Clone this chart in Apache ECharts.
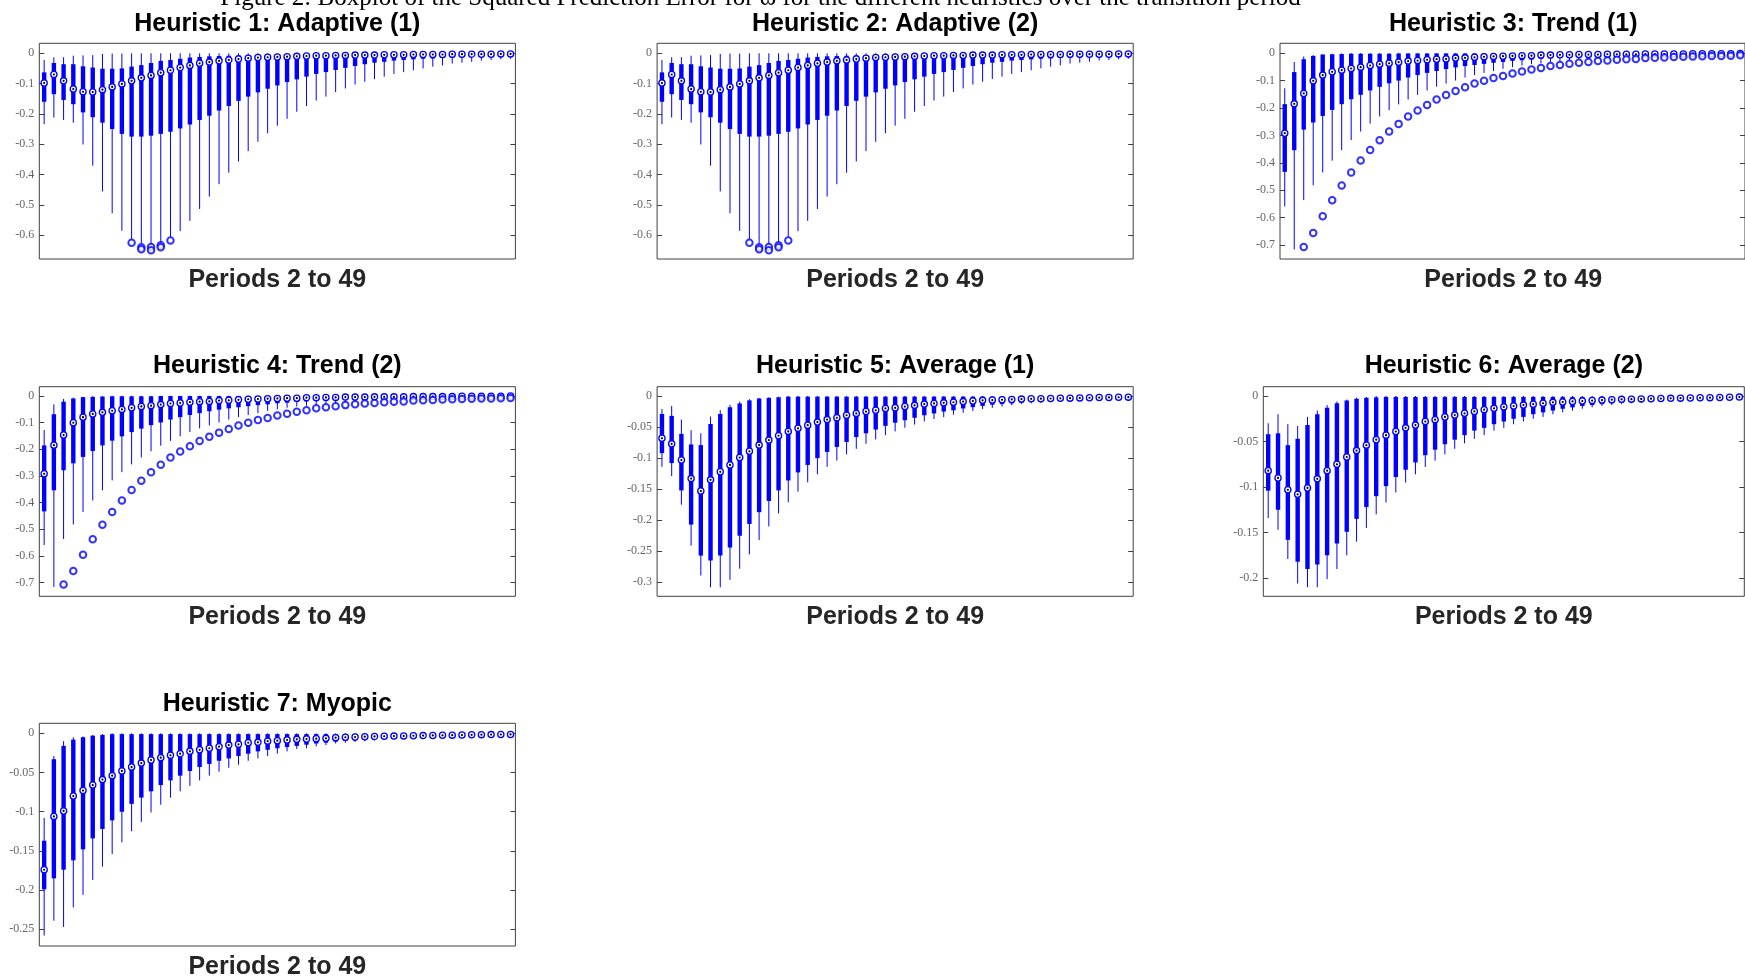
<!DOCTYPE html>
<html>
<head>
<meta charset="utf-8">
<title>Boxplot of the Squared Prediction Error</title>
<script src="https://cdn.jsdelivr.net/npm/echarts@6/dist/echarts.min.js"></script>
<style>
  html, body { margin: 0; padding: 0; background: #fff; }
  #chart { width: 1745px; height: 978px; }
</style>
</head>
<body>
<div id="chart"></div>
<script>
// --- categories: 49 boxes per panel (as counted in the figure) ---
const boxIds = Array.from({ length: 49 }, (_, i) => String(i + 1));

// --- y tick values for each panel ---
const ticksAdaptive = [0, -0.1, -0.2, -0.3, -0.4, -0.5, -0.6];
const ticksTrend = [0, -0.1, -0.2, -0.3, -0.4, -0.5, -0.6, -0.7];
const ticksAverage1 = [0, -0.05, -0.1, -0.15, -0.2, -0.25, -0.3];
const ticksAverage2 = [0, -0.05, -0.1, -0.15, -0.2];
const ticksMyopic = [0, -0.05, -0.1, -0.15, -0.2, -0.25];

// --- Heuristic 1: Adaptive (1)  (panel 2 reads the same) ---
const h1Upper = [
  -0.022, -0.013, -0.013, -0.008, -0.007, -0.006, -0.002, -0.001, -0.001, 0,
  0, 0, 0, 0, 0, 0, 0, 0, 0, 0,
  0, 0, 0, 0, 0, 0, 0, 0, 0, 0,
  0, 0, 0, 0, 0, 0, 0, 0, 0, 0,
  0, 0, 0, 0, 0, 0, 0, 0, 0];
const h1Q3 = [
  -0.063, -0.032, -0.036, -0.036, -0.043, -0.047, -0.051, -0.051, -0.050, -0.044,
  -0.039, -0.032, -0.025, -0.022, -0.018, -0.014, -0.012, -0.010, -0.009, -0.008,
  -0.007, -0.006, -0.005, -0.005, -0.004, -0.004, -0.004, -0.003, -0.003, -0.003,
  -0.003, -0.003, -0.002, -0.002, -0.002, -0.002, -0.002, -0.002, -0.002, -0.001,
  -0.001, -0.001, -0.001, -0.001, -0.001, -0.001, -0.001, -0.001, -0.001];
const h1Median = [
  -0.098, -0.070, -0.091, -0.118, -0.127, -0.128, -0.120, -0.111, -0.101, -0.091,
  -0.081, -0.073, -0.064, -0.056, -0.047, -0.040, -0.033, -0.029, -0.025, -0.022,
  -0.019, -0.016, -0.014, -0.013, -0.012, -0.011, -0.010, -0.009, -0.008, -0.008,
  -0.007, -0.007, -0.006, -0.006, -0.006, -0.005, -0.005, -0.005, -0.004, -0.004,
  -0.004, -0.004, -0.003, -0.003, -0.003, -0.003, -0.003, -0.002, -0.002];
const h1Q1 = [
  -0.160, -0.135, -0.154, -0.168, -0.195, -0.211, -0.229, -0.250, -0.266, -0.275,
  -0.275, -0.272, -0.266, -0.259, -0.248, -0.235, -0.220, -0.206, -0.189, -0.174,
  -0.157, -0.143, -0.129, -0.117, -0.106, -0.095, -0.086, -0.077, -0.068, -0.062,
  -0.055, -0.048, -0.042, -0.036, -0.031, -0.028, -0.024, -0.022, -0.020, -0.018,
  -0.017, -0.015, -0.014, -0.013, -0.012, -0.011, -0.010, -0.009, -0.009];
const h1Lower = [
  -0.234, -0.212, -0.220, -0.229, -0.301, -0.371, -0.456, -0.528, -0.586, -0.614,
  -0.628, -0.630, -0.625, -0.606, -0.587, -0.553, -0.514, -0.473, -0.432, -0.394,
  -0.357, -0.323, -0.292, -0.264, -0.239, -0.216, -0.193, -0.174, -0.156, -0.143,
  -0.128, -0.116, -0.103, -0.094, -0.085, -0.077, -0.068, -0.062, -0.056, -0.050,
  -0.044, -0.040, -0.034, -0.031, -0.028, -0.024, -0.022, -0.020, -0.018];
// [box number, value]
const h1Outliers = [
  [10, -0.625], [11, -0.640], [11, -0.647], [12, -0.639], [12, -0.650],
  [13, -0.634], [13, -0.640], [14, -0.618]];

// --- Heuristic 3: Trend (1)  (panel 4 reads the same) ---
const h3Upper = [
  -0.128, -0.032, -0.012, -0.007, -0.004, -0.002, -0.001, 0, 0, 0,
  0, 0, 0, 0, 0, 0, 0, 0, 0, 0,
  0, 0, 0, 0, 0, 0, 0, 0, 0, 0,
  0, 0, 0, 0, 0, 0, 0, 0, 0, 0,
  0, 0, 0, 0, 0, 0, 0, 0, 0];
const h3Q3 = [
  -0.186, -0.069, -0.022, -0.010, -0.005, -0.004, -0.003, -0.002, -0.002, -0.002,
  -0.002, -0.002, -0.001, -0.001, -0.001, -0.001, -0.001, -0.001, -0.001, -0.001,
  -0.001, -0.001, -0.001, -0.001, -0.001, -0.001, -0.001, -0.001, -0.001, -0.001,
  -0.001, -0.001, -0.001, -0.001, -0.001, -0.001, -0.001, -0.001, -0.001, -0.0005,
  -0.0005, -0.0005, -0.0005, -0.0005, -0.0005, -0.0005, -0.0005, -0.0005, -0.0005];
const h3Median = [
  -0.292, -0.185, -0.147, -0.101, -0.080, -0.068, -0.062, -0.056, -0.051, -0.045,
  -0.040, -0.037, -0.033, -0.029, -0.027, -0.024, -0.022, -0.021, -0.018, -0.017,
  -0.015, -0.013, -0.012, -0.011, -0.010, -0.009, -0.009, -0.007, -0.007, -0.006,
  -0.006, -0.005, -0.005, -0.005, -0.004, -0.004, -0.004, -0.004, -0.003, -0.003,
  -0.003, -0.003, -0.003, -0.002, -0.002, -0.002, -0.002, -0.002, -0.001];
const h3Q1 = [
  -0.433, -0.354, -0.279, -0.253, -0.229, -0.207, -0.186, -0.168, -0.152, -0.136,
  -0.123, -0.110, -0.100, -0.089, -0.080, -0.072, -0.065, -0.058, -0.052, -0.047,
  -0.043, -0.039, -0.035, -0.032, -0.028, -0.026, -0.023, -0.021, -0.019, -0.017,
  -0.016, -0.015, -0.013, -0.012, -0.011, -0.010, -0.010, -0.009, -0.008, -0.008,
  -0.007, -0.007, -0.006, -0.006, -0.005, -0.005, -0.005, -0.004, -0.004];
const h3Lower = [
  -0.559, -0.716, -0.536, -0.482, -0.435, -0.392, -0.354, -0.317, -0.286, -0.257,
  -0.231, -0.208, -0.187, -0.169, -0.152, -0.136, -0.122, -0.111, -0.100, -0.089,
  -0.080, -0.072, -0.065, -0.057, -0.051, -0.045, -0.040, -0.037, -0.033, -0.029,
  -0.027, -0.024, -0.022, -0.019, -0.018, -0.017, -0.016, -0.015, -0.013, -0.012,
  -0.011, -0.010, -0.010, -0.009, -0.008, -0.008, -0.007, -0.007, -0.006];
const h3Outliers = [
  [3, -0.707], [4, -0.656], [5, -0.595], [6, -0.537], [7, -0.483], [8, -0.435],
  [9, -0.392], [10, -0.353], [11, -0.318], [12, -0.286], [13, -0.258], [14, -0.231],
  [15, -0.209], [16, -0.189], [17, -0.169], [18, -0.153], [19, -0.138], [20, -0.124],
  [21, -0.111], [22, -0.101], [23, -0.091], [24, -0.083], [25, -0.074], [26, -0.067],
  [27, -0.060], [28, -0.054], [29, -0.047], [30, -0.043], [31, -0.039], [32, -0.035],
  [33, -0.032], [34, -0.029], [35, -0.027], [36, -0.024], [37, -0.022], [38, -0.021],
  [39, -0.018], [40, -0.017], [41, -0.016], [42, -0.014], [43, -0.013], [44, -0.012],
  [45, -0.011], [46, -0.010], [47, -0.010], [48, -0.009], [49, -0.008]];

// --- Heuristic 5: Average (1) ---
const h5Upper = [
  -0.021, -0.016, -0.038, -0.055, -0.060, -0.033, -0.023, -0.014, -0.009, -0.005,
  -0.003, -0.002, -0.001, 0, 0, 0, 0, 0, 0, 0,
  0, 0, 0, 0, 0, 0, 0, 0, 0, 0,
  0, 0, 0, 0, 0, 0, 0, 0, 0, 0,
  0, 0, 0, 0, 0, 0, 0, 0, 0];
const h5Q3 = [
  -0.029, -0.032, -0.061, -0.078, -0.079, -0.045, -0.029, -0.018, -0.012, -0.007,
  -0.004, -0.003, -0.002, -0.001, -0.001, -0.001, -0.001, -0.001, -0.001, -0.001,
  -0.001, -0.001, -0.001, -0.001, -0.001, -0.001, -0.001, -0.001, -0.001, -0.001,
  -0.001, -0.001, -0.001, -0.001, -0.001, -0.001, -0.001, -0.001, -0.001, -0.0008,
  -0.0008, -0.0008, -0.0008, -0.0008, -0.0008, -0.0008, -0.0008, -0.0008, -0.0008];
const h5Median = [
  -0.068, -0.077, -0.103, -0.133, -0.153, -0.135, -0.122, -0.111, -0.099, -0.089,
  -0.079, -0.071, -0.064, -0.057, -0.052, -0.047, -0.042, -0.038, -0.035, -0.031,
  -0.028, -0.025, -0.023, -0.020, -0.019, -0.017, -0.015, -0.013, -0.012, -0.011,
  -0.010, -0.009, -0.008, -0.007, -0.0065, -0.006, -0.0055, -0.005, -0.0045, -0.0043,
  -0.004, -0.0037, -0.0034, -0.003, -0.0028, -0.0025, -0.0023, -0.002, -0.0018];
const h5Q1 = [
  -0.092, -0.108, -0.152, -0.207, -0.257, -0.265, -0.257, -0.244, -0.225, -0.206,
  -0.187, -0.169, -0.152, -0.136, -0.123, -0.111, -0.100, -0.090, -0.082, -0.074,
  -0.066, -0.060, -0.054, -0.048, -0.043, -0.039, -0.035, -0.031, -0.028, -0.025,
  -0.023, -0.020, -0.018, -0.016, -0.014, -0.013, -0.012, -0.011, -0.0095, -0.0085,
  -0.0075, -0.007, -0.0065, -0.006, -0.0055, -0.005, -0.0045, -0.004, -0.0035];
const h5Lower = [
  -0.114, -0.129, -0.175, -0.241, -0.289, -0.308, -0.308, -0.296, -0.278, -0.255,
  -0.232, -0.210, -0.189, -0.171, -0.154, -0.139, -0.126, -0.114, -0.104, -0.094,
  -0.085, -0.077, -0.070, -0.063, -0.057, -0.051, -0.046, -0.041, -0.037, -0.034,
  -0.030, -0.027, -0.024, -0.021, -0.019, -0.017, -0.015, -0.013, -0.012, -0.011,
  -0.010, -0.009, -0.008, -0.0075, -0.007, -0.0065, -0.006, -0.0055, -0.005];

// --- Heuristic 6: Average (2) ---
const h6Upper = [
  -0.030, -0.020, -0.031, -0.033, -0.023, -0.016, -0.010, -0.006, -0.004, -0.002,
  -0.001, 0, 0, 0, 0, 0, 0, 0, 0, 0,
  0, 0, 0, 0, 0, 0, 0, 0, 0, 0,
  0, 0, 0, 0, 0, 0, 0, 0, 0, 0,
  0, 0, 0, 0, 0, 0, 0, 0, 0];
const h6Q3 = [
  -0.042, -0.041, -0.054, -0.047, -0.032, -0.020, -0.013, -0.008, -0.005, -0.003,
  -0.002, -0.0015, -0.001, -0.001, -0.001, -0.001, -0.001, -0.001, -0.001, -0.001,
  -0.001, -0.001, -0.001, -0.001, -0.001, -0.001, -0.001, -0.001, -0.001, -0.001,
  -0.001, -0.001, -0.001, -0.001, -0.001, -0.001, -0.001, -0.001, -0.001, -0.0006,
  -0.0006, -0.0006, -0.0006, -0.0006, -0.0006, -0.0006, -0.0006, -0.0006, -0.0006];
const h6Median = [
  -0.082, -0.090, -0.103, -0.108, -0.101, -0.091, -0.082, -0.075, -0.067, -0.060,
  -0.054, -0.048, -0.043, -0.039, -0.035, -0.032, -0.028, -0.026, -0.023, -0.021,
  -0.019, -0.017, -0.015, -0.0136, -0.012, -0.011, -0.010, -0.009, -0.008, -0.007,
  -0.0066, -0.006, -0.0055, -0.005, -0.0045, -0.0041, -0.0037, -0.0035, -0.0032, -0.003,
  -0.0028, -0.0026, -0.0024, -0.0022, -0.002, -0.0018, -0.0016, -0.0014, -0.0012];
const h6Q1 = [
  -0.104, -0.125, -0.158, -0.182, -0.190, -0.185, -0.175, -0.162, -0.149, -0.135,
  -0.122, -0.110, -0.099, -0.089, -0.081, -0.073, -0.065, -0.059, -0.053, -0.048,
  -0.043, -0.038, -0.035, -0.031, -0.028, -0.025, -0.023, -0.020, -0.018, -0.016,
  -0.014, -0.0125, -0.011, -0.010, -0.009, -0.008, -0.0073, -0.0066, -0.006, -0.0055,
  -0.005, -0.0046, -0.0042, -0.0038, -0.0035, -0.0032, -0.0029, -0.0026, -0.0023];
const h6Lower = [
  -0.134, -0.147, -0.179, -0.206, -0.210, -0.210, -0.201, -0.190, -0.175, -0.160,
  -0.145, -0.130, -0.117, -0.106, -0.095, -0.086, -0.078, -0.071, -0.064, -0.058,
  -0.052, -0.047, -0.043, -0.038, -0.035, -0.031, -0.028, -0.025, -0.023, -0.020,
  -0.018, -0.016, -0.014, -0.0125, -0.011, -0.010, -0.009, -0.008, -0.0074, -0.0068,
  -0.0062, -0.0057, -0.0052, -0.0048, -0.0044, -0.004, -0.0037, -0.0034, -0.0031];

// --- Heuristic 7: Myopic ---
const h7Upper = [
  -0.108, -0.029, -0.010, -0.005, -0.004, -0.002, -0.001, 0, 0, 0,
  0, 0, 0, 0, 0, 0, 0, 0, 0, 0,
  0, 0, 0, 0, 0, 0, 0, 0, 0, 0,
  0, 0, 0, 0, 0, 0, 0, 0, 0, 0,
  0, 0, 0, 0, 0, 0, 0, 0, 0];
const h7Q3 = [
  -0.137, -0.033, -0.016, -0.008, -0.005, -0.003, -0.002, -0.001, -0.001, -0.001,
  -0.001, -0.001, -0.001, -0.001, -0.001, -0.001, -0.001, -0.001, -0.001, -0.001,
  -0.001, -0.001, -0.001, -0.001, -0.001, -0.001, -0.001, -0.001, -0.001, -0.001,
  -0.001, -0.001, -0.001, -0.001, -0.001, -0.001, -0.001, -0.001, -0.001, -0.0007,
  -0.0007, -0.0007, -0.0007, -0.0007, -0.0007, -0.0007, -0.0007, -0.0007, -0.0007];
const h7Median = [
  -0.174, -0.106, -0.099, -0.080, -0.073, -0.066, -0.059, -0.054, -0.048, -0.043,
  -0.038, -0.034, -0.031, -0.028, -0.026, -0.023, -0.021, -0.019, -0.017, -0.015,
  -0.014, -0.012, -0.0115, -0.010, -0.0094, -0.0085, -0.0077, -0.0072, -0.0068, -0.0064,
  -0.0055, -0.005, -0.0047, -0.0043, -0.004, -0.0037, -0.0035, -0.0033, -0.0031, -0.0029,
  -0.0027, -0.0025, -0.0023, -0.0021, -0.0019, -0.0017, -0.0016, -0.0015, -0.0014];
const h7Q1 = [
  -0.199, -0.185, -0.174, -0.162, -0.148, -0.134, -0.122, -0.111, -0.100, -0.090,
  -0.082, -0.074, -0.066, -0.060, -0.054, -0.048, -0.043, -0.039, -0.035, -0.032,
  -0.029, -0.026, -0.023, -0.021, -0.019, -0.0175, -0.016, -0.0145, -0.013, -0.012,
  -0.0106, -0.0098, -0.009, -0.0082, -0.0075, -0.007, -0.0065, -0.006, -0.0055, -0.005,
  -0.0046, -0.0042, -0.0039, -0.0036, -0.0033, -0.003, -0.0028, -0.0026, -0.0024];
const h7Lower = [
  -0.258, -0.239, -0.247, -0.222, -0.206, -0.187, -0.170, -0.154, -0.139, -0.125,
  -0.113, -0.101, -0.091, -0.082, -0.074, -0.067, -0.060, -0.054, -0.049, -0.044,
  -0.040, -0.035, -0.032, -0.029, -0.026, -0.023, -0.020, -0.019, -0.0166, -0.015,
  -0.013, -0.012, -0.011, -0.010, -0.009, -0.0083, -0.0077, -0.0071, -0.0066, -0.0061,
  -0.0057, -0.0053, -0.0049, -0.0046, -0.0043, -0.004, -0.0037, -0.0035, -0.0033];

const BLUE = "#0000ff";
const CAPTION =
  "Figure 2: Boxplot of the Squared Prediction Error for \u03c9 for the different heuristics over the transition period";

// layout of the 7 subplots (pixels)
const panels = [
  { title: "Heuristic 1: Adaptive (1)", lower: h1Lower, q1: h1Q1, median: h1Median, q3: h1Q3, upper: h1Upper, outliers: h1Outliers,
    ticks: ticksAdaptive, min: -0.679, max: 0.033, left: 39.3, top: 43.3, width: 476.1, height: 215.7, titleY: 23.7, xLabelY: 280.3 },
  { title: "Heuristic 2: Adaptive (2)", lower: h1Lower, q1: h1Q1, median: h1Median, q3: h1Q3, upper: h1Upper, outliers: h1Outliers,
    ticks: ticksAdaptive, min: -0.679, max: 0.033, left: 657.1, top: 43.3, width: 476.1, height: 215.7, titleY: 23.7, xLabelY: 280.3 },
  { title: "Heuristic 3: Trend (1)", lower: h3Lower, q1: h3Q1, median: h3Median, q3: h3Q3, upper: h3Upper, outliers: h3Outliers,
    ticks: ticksTrend, min: -0.751, max: 0.036, left: 1280, top: 43.3, width: 466.5, height: 215.7, titleY: 23.7, xLabelY: 280.3 },
  { title: "Heuristic 4: Trend (2)", lower: h3Lower, q1: h3Q1, median: h3Median, q3: h3Q3, upper: h3Upper, outliers: h3Outliers,
    ticks: ticksTrend, min: -0.751, max: 0.034, left: 39.3, top: 386.7, width: 476.1, height: 209.6, titleY: 366, xLabelY: 617 },
  { title: "Heuristic 5: Average (1)", lower: h5Lower, q1: h5Q1, median: h5Median, q3: h5Q3, upper: h5Upper, outliers: [],
    ticks: ticksAverage1, min: -0.3225, max: 0.015, left: 657.1, top: 386.7, width: 476.1, height: 209.6, titleY: 366, xLabelY: 617 },
  { title: "Heuristic 6: Average (2)", lower: h6Lower, q1: h6Q1, median: h6Median, q3: h6Q3, upper: h6Upper, outliers: [],
    ticks: ticksAverage2, min: -0.220, max: 0.0102, left: 1263.3, top: 386.7, width: 481, height: 209.6, titleY: 366, xLabelY: 617 },
  { title: "Heuristic 7: Myopic", lower: h7Lower, q1: h7Q1, median: h7Median, q3: h7Q3, upper: h7Upper, outliers: [],
    ticks: ticksMyopic, min: -0.2713, max: 0.0128, left: 39.3, top: 723.3, width: 476.1, height: 222.7, titleY: 703.7, xLabelY: 967 },
];

// compact boxplot: thin whisker, thick box, circled median with a dot
function renderBox(params, api) {
  const x = api.value(0);
  const lo = api.coord([x, api.value(1)]);
  const q1 = api.coord([x, api.value(2)]);
  const med = api.coord([x, api.value(3)]);
  const q3 = api.coord([x, api.value(4)]);
  const hi = api.coord([x, api.value(5)]);
  const bw = 4.4;
  return {
    type: "group",
    children: [
      { type: "line", shape: { x1: lo[0], y1: lo[1], x2: hi[0], y2: hi[1] },
        style: { stroke: BLUE, lineWidth: 1 } },
      { type: "rect", shape: { x: q1[0] - bw / 2, y: q3[1], width: bw, height: Math.max(q1[1] - q3[1], 0.5) },
        style: { fill: BLUE } },
      { type: "circle", shape: { cx: med[0], cy: med[1], r: 3.1 },
        style: { fill: "#fff", stroke: BLUE, lineWidth: 1.3 } },
      { type: "circle", shape: { cx: med[0], cy: med[1], r: 1.1 },
        style: { fill: "#000" } },
    ],
  };
}

const grids = [], xAxes = [], yAxes = [], series = [], texts = [];

panels.forEach((p, i) => {
  grids.push({
    left: p.left, top: p.top, width: p.width, height: p.height,
    show: true, borderColor: "#404040", borderWidth: 1, containLabel: false,
  });
  xAxes.push({
    type: "category", gridIndex: i, data: boxIds, boundaryGap: true, show: false,
  });
  const tickStyle = { show: true, inside: true, length: 5, customValues: p.ticks,
    lineStyle: { color: "#404040", width: 1 } };
  yAxes.push({
    type: "value", gridIndex: i, position: "left", min: p.min, max: p.max,
    axisLine: { show: false }, splitLine: { show: false },
    axisTick: tickStyle,
    axisLabel: { customValues: p.ticks, margin: 5, color: "#666",
      fontFamily: "Liberation Serif", fontSize: 12 },
  });
  yAxes.push({
    type: "value", gridIndex: i, position: "right", min: p.min, max: p.max,
    axisLine: { show: false }, splitLine: { show: false },
    axisTick: tickStyle, axisLabel: { show: false },
  });

  const boxes = boxIds.map((_, k) => [k, p.lower[k], p.q1[k], p.median[k], p.q3[k], p.upper[k]]);
  series.push({
    type: "custom", xAxisIndex: i, yAxisIndex: 2 * i,
    renderItem: renderBox, data: boxes,
    encode: { x: 0, y: [1, 2, 3, 4, 5] },
  });
  if (p.outliers.length) {
    series.push({
      type: "scatter", xAxisIndex: i, yAxisIndex: 2 * i,
      symbol: "emptyCircle", symbolSize: 6.5,
      itemStyle: { color: BLUE, borderColor: BLUE, borderWidth: 2.3 },
      data: p.outliers.map((o) => [o[0] - 1, o[1]]),
      z: 3,
    });
  }

  const cx = p.left + p.width / 2;
  texts.push({
    type: "text", x: cx, y: p.titleY,
    style: { text: p.title, font: 'bold 25px "Liberation Sans"', fill: "#000",
      textAlign: "center", textVerticalAlign: "middle" },
  });
  texts.push({
    type: "text", x: cx, y: p.xLabelY,
    style: { text: "Periods 2 to 49", font: 'bold 25px "Liberation Sans"', fill: "#262626",
      textAlign: "center", textVerticalAlign: "middle" },
  });
});

// figure caption, cut off at the top edge as in the original
texts.push({
  type: "text", x: 760.5, y: -2,
  style: { text: CAPTION, font: '25px "Liberation Serif"', fill: "#000",
    textAlign: "center", textVerticalAlign: "middle" },
});

const chart = echarts.init(document.getElementById("chart"));
chart.setOption({
  animation: false,
  backgroundColor: "#fff",
  grid: grids,
  xAxis: xAxes,
  yAxis: yAxes,
  series: series,
  graphic: { elements: texts },
});
</script>
</body>
</html>
